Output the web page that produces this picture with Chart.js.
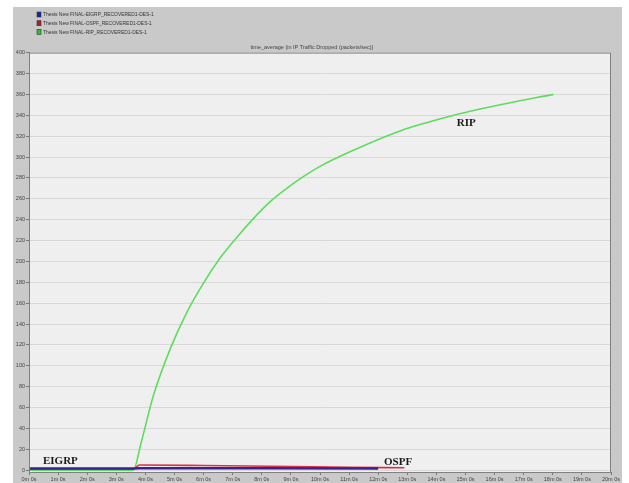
<!DOCTYPE html>
<html>
<head>
<meta charset="utf-8">
<script src="https://cdn.jsdelivr.net/npm/chart.js@4/dist/chart.umd.min.js"></script>
<style>
html,body{margin:0;padding:0;background:#fff;}
#wrap{width:629px;height:483px;}
</style>
</head>
<body>
<div id="wrap"><canvas id="c" width="629" height="483"></canvas></div>
<script>
// ---- data ----
const seriesNames = [
  "Thesis New FINAL-EIGRP_RECOVERED1-DES-1",
  "Thesis New FINAL-OSPF_RECOVERED1-DES-1",
  "Thesis New FINAL-RIP_RECOVERED1-DES-1"
];
const chartTitle = "time_average (in IP Traffic Dropped (packets/sec))";
const xTickLabels = ["0m 0s","1m 0s","2m 0s","3m 0s","4m 0s","5m 0s","6m 0s","7m 0s","8m 0s","9m 0s","10m 0s",
  "11m 0s","12m 0s","13m 0s","14m 0s","15m 0s","16m 0s","17m 0s","18m 0s","19m 0s","20m 0s"];
// time in minutes
const eigrpTimes  = [0, 3.58, 3.8, 8, 12.0];
const eigrpValues = [1.6, 1.6, 2.0, 1.9, 1.7];
const ospfTimes   = [0, 3.58, 3.8, 6, 9, 11, 12.9];
const ospfValues  = [1.2, 1.2, 5.0, 4.5, 3.5, 2.8, 2.4];
const ripTimes    = [0, 3.58, 3.85, 4.27, 4.85, 5.42, 5.99, 6.56, 7.14, 7.71, 8.28, 8.86, 9.31, 10.0, 11.03, 12.75, 14.47, 16.19, 18.02];
const ripValues   = [0, 0, 26, 71, 116, 151, 179, 203, 223, 241, 257, 270, 279, 291, 305, 325, 339, 350, 360];
const curveLabels = ["EIGRP", "OSPF", "RIP"];

function pts(t, v){ return t.map((x,i)=>({x:x, y:v[i]})); }

const colors = ["#3a2090", "#d8304a", "#5fdc5f"];
const legendColors = ["#2020b0", "#b02020", "#30c030"];

const bgPlugin = {
  id: 'bg',
  beforeDraw(chart){
    const ctx = chart.ctx, a = chart.chartArea;
    ctx.save();
    ctx.fillStyle = '#ffffff';
    ctx.fillRect(0,0,chart.width,chart.height);
    ctx.fillStyle = '#c9c9c9';
    ctx.fillRect(13,7,609,476);
    ctx.fillStyle = '#efefef';
    ctx.fillRect(a.left,a.top,a.right-a.left,a.bottom-a.top);
    ctx.restore();
  },
  afterDraw(chart){
    const ctx = chart.ctx, a = chart.chartArea;
    const xs = chart.scales.x, ys = chart.scales.y;
    ctx.save();
    ctx.strokeStyle = '#808080';
    ctx.lineWidth = 1;
    ctx.strokeRect(a.left+0.5, a.top+0.5, a.right-a.left-1, a.bottom-a.top);
    // legend
    seriesNames.forEach((n,i)=>{
      const y = 14.5 + i*8.7;
      ctx.fillStyle = legendColors[i];
      ctx.fillRect(37, y-2.5, 4, 5);
      ctx.strokeStyle = '#333';
      ctx.lineWidth = 0.6;
      ctx.strokeRect(37, y-2.5, 4, 5);
      ctx.save();
      ctx.translate(43, y);
      ctx.scale(0.82, 1);
      ctx.font = '6px "Liberation Sans", Arial, sans-serif';
      ctx.textBaseline = 'middle';
      ctx.textAlign = 'left';
      ctx.fillStyle = '#333';
      ctx.fillText(n, 0, 0);
      ctx.restore();
    });
    // curve labels
    ctx.font = 'bold 11px "Liberation Serif", "Times New Roman", serif';
    ctx.fillStyle = '#1a1a1a';
    ctx.textBaseline = 'middle';
    ctx.textAlign = 'left';
    ctx.fillText(curveLabels[0], xs.getPixelForValue(0.48), ys.getPixelForValue(8.6));
    ctx.fillText(curveLabels[1], xs.getPixelForValue(12.2), ys.getPixelForValue(7.3));
    ctx.fillText(curveLabels[2], xs.getPixelForValue(14.7), ys.getPixelForValue(332));
    ctx.restore();
  }
};

new Chart(document.getElementById('c'), {
  type: 'line',
  data: {
    datasets: [
      { label: seriesNames[0], data: pts(eigrpTimes, eigrpValues), borderColor: colors[0], borderWidth: 2.5, pointRadius: 0, tension: 0 },
      { label: seriesNames[1], data: pts(ospfTimes, ospfValues), borderColor: colors[1], borderWidth: 1.6, pointRadius: 0, cubicInterpolationMode: 'monotone' },
      { label: seriesNames[2], data: pts(ripTimes, ripValues), borderColor: colors[2], borderWidth: 1.6, pointRadius: 0, cubicInterpolationMode: 'monotone' }
    ]
  },
  options: {
    responsive: false,
    devicePixelRatio: 1,
    animation: false,
    layout: { padding: { left: 13, right: 18, top: 7, bottom: 0 } },
    plugins: {
      legend: { display: false },
      tooltip: { enabled: false },
      title: {
        display: true,
        text: chartTitle,
        color: '#444',
        font: { size: 5.5, family: '"Liberation Sans", Arial, sans-serif', weight: 'normal' },
        padding: { top: 37, bottom: 2 }
      }
    },
    scales: {
      x: {
        type: 'linear', min: 0, max: 20,
        afterFit(s){ s.height = 11; },
        ticks: {
          stepSize: 1, autoSkip: false, maxRotation: 0, padding: 1,
          color: '#444',
          font: { size: 5.5, family: '"Liberation Sans", Arial, sans-serif' },
          callback: (v) => xTickLabels[Math.round(v)]
        },
        grid: { drawOnChartArea: false, tickLength: 3, tickColor: '#777' },
        border: { color: '#808080' }
      },
      y: {
        type: 'linear', min: -1.7, max: 400,
        afterFit(s){ s.width = 16; },
        ticks: {
          stepSize: 20, includeBounds: false, padding: 1,
          color: '#444',
          font: { size: 5.5, family: '"Liberation Sans", Arial, sans-serif' }
        },
        grid: { color: '#d8d8d8', tickLength: 3, tickColor: '#777' },
        border: { color: '#808080' }
      }
    }
  },
  plugins: [bgPlugin]
});
</script>
</body>
</html>
